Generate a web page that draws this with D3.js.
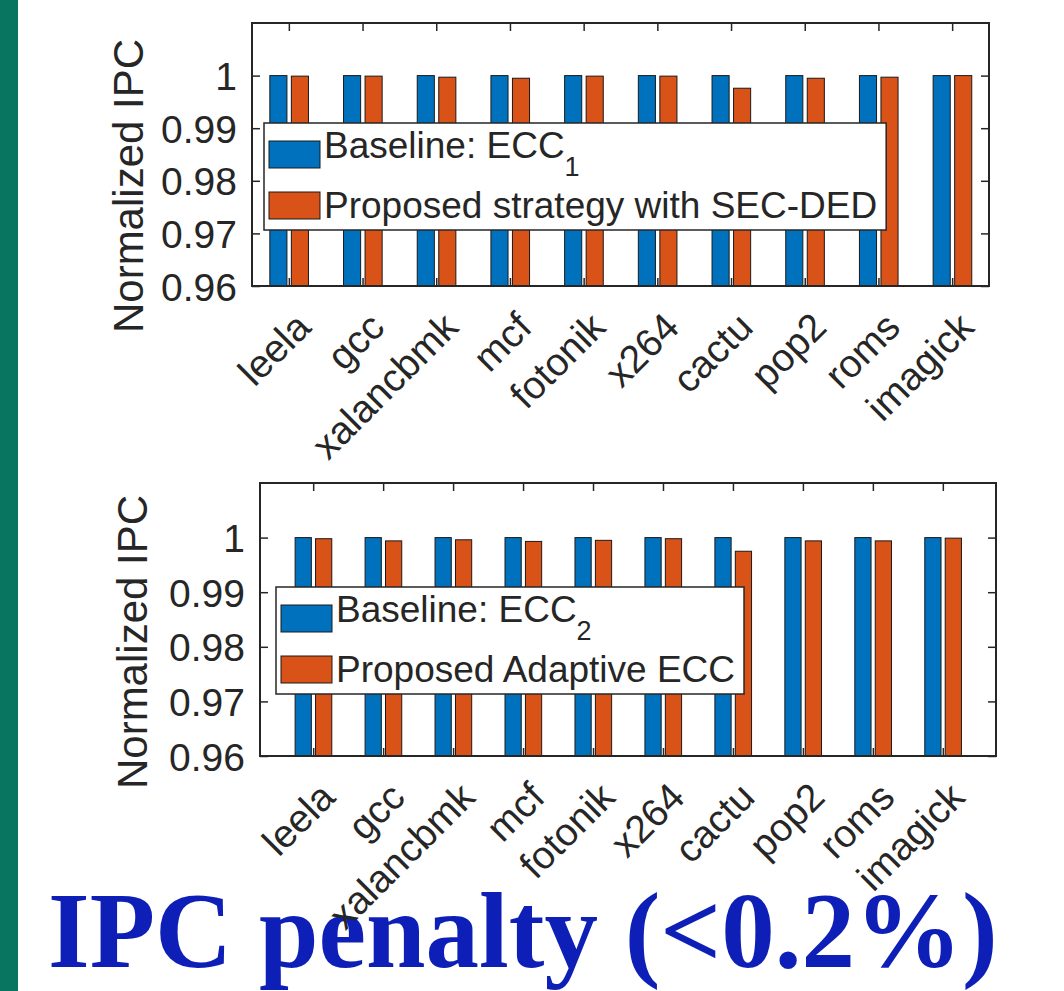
<!DOCTYPE html>
<html>
<head>
<meta charset="utf-8">
<script src="https://cdn.jsdelivr.net/npm/d3@7"></script>
<style>
  body { margin: 0; background: #fff; }
  svg text { font-family: "Liberation Sans", Arial, Helvetica, sans-serif; fill: #262626; }
  .title { font-family: "Liberation Serif", "Times New Roman", serif; font-weight: bold; fill: #0d1fb6; }
</style>
</head>
<body>
<div id="chart"></div>
<script>
// benchmarks on the x axis
var categories = ["leela", "gcc", "xalancbmk", "mcf", "fotonik", "x264", "cactu", "pop2", "roms", "imagick"];

// top panel: baseline ECC1 vs proposed strategy with SEC-DED
var ecc1Baseline = [1, 1, 1, 1, 1, 1, 1, 1, 1, 1];
var ecc1Proposed = [0.9999, 0.9999, 0.9997, 0.9995, 0.9999, 0.9999, 0.9976, 0.9995, 0.9997, 1.0];

// bottom panel: baseline ECC2 vs proposed adaptive ECC
var ecc2Baseline = [1, 1, 1, 1, 1, 1, 1, 1, 1, 1];
var ecc2Adaptive = [0.9998, 0.9994, 0.9996, 0.9993, 0.9995, 0.9998, 0.9975, 0.9994, 0.9994, 0.9999];

var yTicks = [0.96, 0.97, 0.98, 0.99, 1];
var seriesColors = ["#0072BD", "#D95319"];

var W = 1064, H = 991;

var svg = d3.select("#chart").append("svg")
    .attr("width", W).attr("height", H);

svg.append("rect").attr("width", W).attr("height", H).attr("fill", "#fff");

// green strip on the left of the slide
svg.append("rect").attr("x", 0).attr("y", 0).attr("width", 18).attr("height", H).attr("fill", "#077560");

// slide title (drawn first, the tick labels sit over it)
svg.append("text")
    .attr("class", "title")
    .attr("x", 48)
    .attr("y", 967)
    .style("font-size", "107px")
    .text("IPC penalty (<0.2%)");

var panels = [
  {left: 252, top: 23, right: 989, bottom: 286, xlim: [0.5, 10.5],
   series: [ecc1Baseline, ecc1Proposed],
   legend: {x: 264, y: 123, rows: [["Baseline: ECC", "1"], ["Proposed strategy with SEC-DED", ""]]},
   ylabelX: 143, ylabelY: 186},
  {left: 260, top: 483, right: 996, bottom: 756, xlim: [0.24, 10.76],
   series: [ecc2Baseline, ecc2Adaptive],
   legend: {x: 276, y: 587, rows: [["Baseline: ECC", "2"], ["Proposed Adaptive ECC", ""]]},
   ylabelX: 147, ylabelY: 642}
];

var barOffsets = [-0.142, 0.15];
var barWidth = 0.232;

panels.forEach(function(p, pi) {
  var g = svg.append("g").attr("class", "panel-" + pi);

  var x = d3.scaleLinear().domain(p.xlim).range([p.left, p.right]);
  var y = d3.scaleLinear().domain([0.96, 1.01]).range([p.bottom, p.top]);

  g.append("clipPath").attr("id", "clip" + pi)
    .append("rect")
      .attr("x", p.left).attr("y", p.top)
      .attr("width", p.right - p.left).attr("height", p.bottom - p.top);

  // bars
  var bw = x(1 + barWidth) - x(1);
  p.series.forEach(function(vals, s) {
    g.append("g").attr("clip-path", "url(#clip" + pi + ")")
      .selectAll("rect")
      .data(vals)
      .enter().append("rect")
        .attr("x", function(d, i) { return x(i + 1 + barOffsets[s]) - bw / 2; })
        .attr("y", function(d) { return y(d); })
        .attr("width", bw)
        .attr("height", function(d) { return y(0.96) - y(d); })
        .attr("fill", seriesColors[s])
        .attr("stroke", "#1a1a1a")
        .attr("stroke-width", 1);
  });

  // axes, ticks pointing inward like matlab
  var xTickVals = d3.range(1, categories.length + 1);

  var xAxis = g.append("g")
      .attr("transform", "translate(0," + p.bottom + ")")
      .call(d3.axisBottom(x).tickValues(xTickVals).tickSize(-8).tickSizeOuter(0)
        .tickFormat(function(d) { return categories[d - 1]; }));
  xAxis.select(".domain").remove();
  xAxis.selectAll("line").attr("stroke", "#262626").attr("stroke-width", 1.5);
  xAxis.selectAll("text")
      .attr("y", 0).attr("x", 0)
      .attr("dy", "0.85em")
      .attr("transform", "translate(0,20) rotate(-45)")
      .attr("text-anchor", "end")
      .attr("fill", "#262626")
      .style("font-size", "39px");

  var xTop = g.append("g")
      .attr("transform", "translate(0," + p.top + ")")
      .call(d3.axisTop(x).tickValues(xTickVals).tickSize(-8).tickSizeOuter(0).tickFormat(""));
  xTop.select(".domain").remove();
  xTop.selectAll("line").attr("stroke", "#262626").attr("stroke-width", 1.5);

  var yAxis = g.append("g")
      .attr("transform", "translate(" + p.left + ",0)")
      .call(d3.axisLeft(y).tickValues(yTicks).tickSize(-8).tickSizeOuter(0).tickPadding(15)
        .tickFormat(function(d) { return d === 1 ? "1" : d.toFixed(2); }));
  yAxis.select(".domain").remove();
  yAxis.selectAll("line").attr("stroke", "#262626").attr("stroke-width", 1.5);
  yAxis.selectAll("text").attr("fill", "#262626").attr("dy", "0.36em").style("font-size", "39px");

  var yRight = g.append("g")
      .attr("transform", "translate(" + p.right + ",0)")
      .call(d3.axisRight(y).tickValues(yTicks).tickSize(-8).tickSizeOuter(0).tickFormat(""));
  yRight.select(".domain").remove();
  yRight.selectAll("line").attr("stroke", "#262626").attr("stroke-width", 1.5);

  // axes box
  g.append("rect")
      .attr("x", p.left).attr("y", p.top)
      .attr("width", p.right - p.left).attr("height", p.bottom - p.top)
      .attr("fill", "none")
      .attr("stroke", "#262626")
      .attr("stroke-width", 2);

  // y label
  g.append("text")
      .attr("transform", "translate(" + p.ylabelX + "," + p.ylabelY + ") rotate(-90)")
      .attr("text-anchor", "middle")
      .style("font-size", "42px")
      .text("Normalized IPC");

  // legend
  var lg = g.append("g").attr("transform", "translate(" + p.legend.x + "," + p.legend.y + ")");
  var box = lg.append("rect")
      .attr("fill", "#fff")
      .attr("stroke", "#262626")
      .attr("stroke-width", 1.5)
      .attr("height", 107);

  var rowSwatchY = [18, 69];
  var rowBaseY = [35, 95];
  var maxW = 0;
  p.legend.rows.forEach(function(r, k) {
    lg.append("rect")
        .attr("x", 5).attr("y", rowSwatchY[k])
        .attr("width", 51).attr("height", 27)
        .attr("fill", seriesColors[k])
        .attr("stroke", "#1a1a1a")
        .attr("stroke-width", 1);
    var t = lg.append("text")
        .attr("x", 60).attr("y", rowBaseY[k])
        .attr("fill", "#000")
        .style("font-size", "37px");
    t.append("tspan").text(r[0]);
    if (r[1]) {
      t.append("tspan").attr("dy", 18).style("font-size", "27px").text(r[1]);
    }
    maxW = Math.max(maxW, t.node().getComputedTextLength());
  });
  box.attr("width", 60 + maxW + 9);
});
</script>
</body>
</html>
